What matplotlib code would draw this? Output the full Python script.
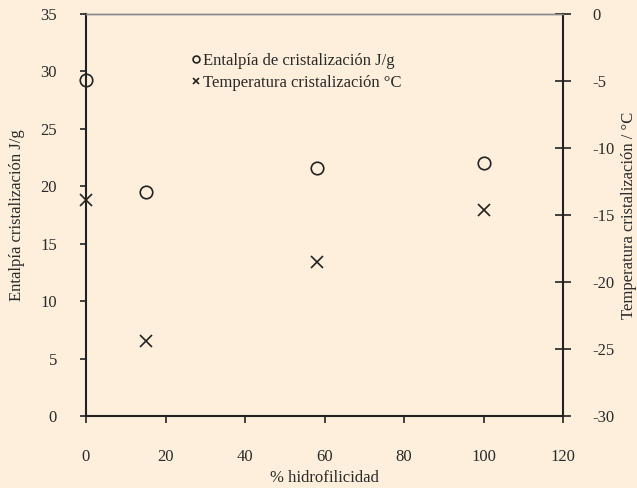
import matplotlib
matplotlib.use("Agg")
import matplotlib.pyplot as plt

hidrofilicidad = [0, 15, 58, 100]
entalpia = [29.25, 19.5, 21.55, 22.05]
temperatura = [-13.9, -24.4, -18.5, -14.6]

x_ticks = [0, 20, 40, 60, 80, 100, 120]
left_ticks = [0, 5, 10, 15, 20, 25, 30, 35]
right_ticks = [0, -5, -10, -15, -20, -25, -30]

bg = "#FDEFDB"
txt = '#2a2a2a'
plt.rcParams['font.family'] = ['Liberation Serif', 'DejaVu Serif']
plt.rcParams['font.size'] = 12

fig = plt.figure(figsize=(6.37, 4.88), dpi=100, facecolor=bg)
ax = fig.add_axes([86/637, 1-416/488, (563-86)/637, (416-14)/488])
ax.set_facecolor(bg)
ax2 = ax.twinx()

h1, = ax.plot(hidrofilicidad, entalpia, linestyle='none', marker='o', markersize=9,
              markerfacecolor='none', markeredgecolor='#222222', markeredgewidth=1.2,
              label='Entalpía de cristalización J/g', clip_on=False, zorder=5)
h2, = ax2.plot(hidrofilicidad, temperatura, linestyle='none', marker='x', markersize=9,
               color='#222222', markeredgewidth=1.2,
               label='Temperatura cristalización °C', clip_on=False, zorder=5)

ax.set_xlim(0, 120)
ax.set_ylim(0, 35)
ax2.set_ylim(-30, 0)
ax.set_xticks(x_ticks)
ax.set_yticks(left_ticks)
ax2.set_yticks(right_ticks)
ax2.set_yticklabels([str(t) for t in right_ticks])

for a in (ax, ax2):
    for s in ('left', 'right', 'bottom'):
        a.spines[s].set_color('#222222')
        a.spines[s].set_linewidth(1.5)
    a.spines['top'].set_color('#888888')
    a.spines['top'].set_linewidth(1.0)
ax.spines['right'].set_visible(False)
ax2.spines['left'].set_visible(False)
ax2.spines['bottom'].set_visible(False)

ax.tick_params(axis='y', direction='out', length=4, width=1.2, pad=17, color='#222222', labelcolor=txt)
ax.tick_params(axis='x', direction='out', length=5, width=1.2, pad=19, color='#222222', labelcolor=txt)
ax2.tick_params(axis='y', direction='inout', length=11, width=1.2, pad=15.5, color='#222222', labelcolor=txt)

ax.set_xlabel('% hidrofilicidad', color=txt)
ax.set_ylabel('Entalpía cristalización J/g', color=txt)
ax2.set_ylabel('Temperatura cristalización / °C', color=txt)
ax.xaxis.set_label_coords(0.499, -0.154)
ax.yaxis.set_label_coords(-0.145, 0.5)
ax2.yaxis.set_label_coords(1.138, 0.5)
ax.xaxis.label.set_va('center')
ax.yaxis.label.set_va('center')
ax2.yaxis.label.set_va('center')

leg = ax.legend(handles=[h1, h2], loc='upper left', bbox_to_anchor=(0.21, 0.92),
                frameon=False, markerscale=0.55, handlelength=0.4, handletextpad=0.2,
                labelspacing=0.35, fontsize=12, borderaxespad=0)
for t in leg.get_texts():
    t.set_color(txt)

fig.savefig('out.png', dpi=100, facecolor=bg)
